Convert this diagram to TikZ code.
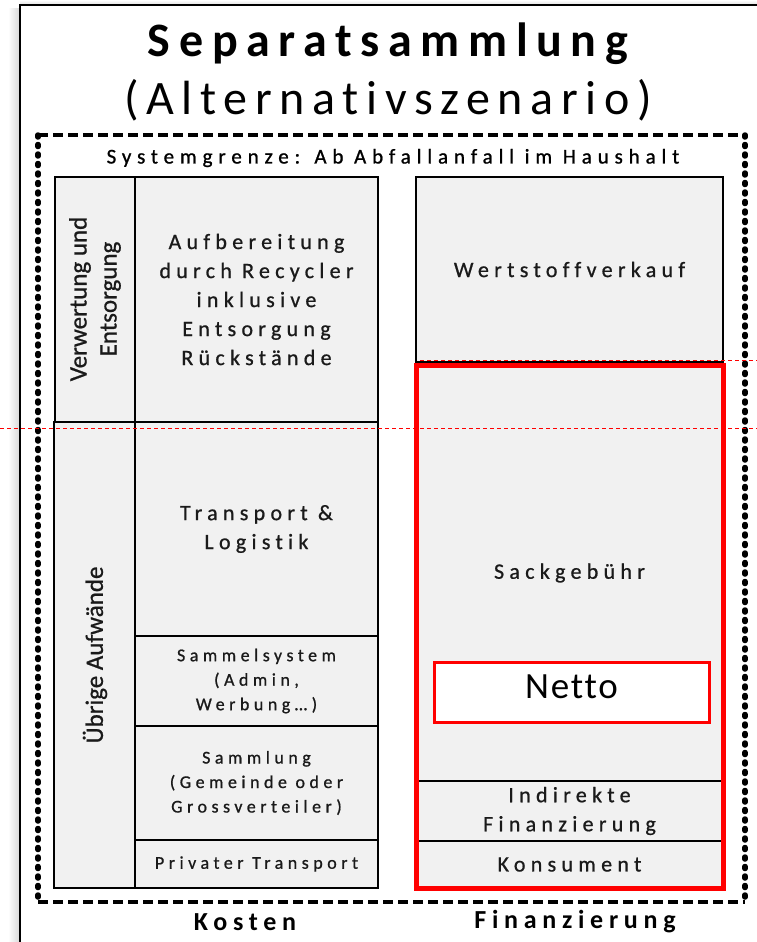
\documentclass[tikz,border=0pt]{standalone}
\usepackage{fontspec}
\setmainfont{Carlito}
\newfontfamily\lsp[LetterSpace=24,FakeBold=0.8,Ligatures=NoCommon]{Carlito}
\newfontfamily\lsps[LetterSpace=25,FakeBold=0.8,Ligatures=NoCommon]{Carlito}
\newfontfamily\lsysg[LetterSpace=28,FakeBold=1.0,Ligatures=NoCommon]{Carlito}
\newfontfamily\ltitle[LetterSpace=18,Ligatures=NoCommon]{Carlito}
\newfontfamily\lsub[LetterSpace=16,Ligatures=NoCommon]{Carlito}
\newfontfamily\lfoot[LetterSpace=22,Ligatures=NoCommon]{Carlito}
\newfontfamily\lnet[LetterSpace=5,Ligatures=NoCommon]{Carlito}
\newfontfamily\lrot[FakeBold=0.8]{Carlito}
\usetikzlibrary{calc}
\definecolor{cellgray}{HTML}{F1F1F1}
\definecolor{txtgray}{HTML}{1A1A1A}
\newcommand\cellbox[7][]{\node[cell,#1, minimum width={#5-#3}, minimum height={#6-#4}] (#2) at ({(#3+#5)/2},{(#4+#6)/2}) {#7};}
\begin{document}
\begin{tikzpicture}[x=1pt,y=-1pt,
  cell/.style={draw=black, fill=cellgray, line width=2.2, inner sep=0, outer sep=0, align=center, text=txtgray},
  big/.style={font=\lsp\fontsize{22}{29}\selectfont},
  small/.style={font=\lsps\fontsize{18}{24.5}\selectfont},
  rot/.style={rotate=90, align=center, font=\lrot\fontsize{25}{30}\selectfont, text=txtgray},
  redline/.style={draw=red, line width=0.9, dash pattern=on 4 off 3},
  boundh/.style={line width=4, dash pattern=on 10 off 5},
  boundv/.style={line width=5.5, line cap=round, dash pattern=on 2 off 7.5},
  foot/.style={font=\lfoot\bfseries\fontsize{26}{30}\selectfont}
]
\useasboundingbox (0,0) rectangle (757,942);
\clip (0,0) rectangle (757,942);
% shadow and outer frame
\shade[left color=white, right color=black!14] (8,9) rectangle (19,942);
\shade[top color=white, bottom color=black!10] (20,0) rectangle (757,4);
\draw[line width=2.2, fill=white] (20,5) rectangle (780,970);
% title
\node[font=\ltitle\bfseries\fontsize{48}{52}\selectfont] (title) at (388,44) {Separatsammlung};
\node[font=\lsub\fontsize{48}{52}\selectfont] (subtitle) at (388,100) {(Alternativszenario)};
% system boundary
\coordinate (bl) at (38,902);
\coordinate (tl) at (38,135);
\coordinate (tr) at (745,135);
\coordinate (br) at (745,902);
\draw[boundh] (tl) -- (tr);
\draw[boundh] (bl) -- (br);
\draw[boundv] (tl) -- (bl);
\draw[boundv] (tr) -- (br);
\node[font=\lsysg\fontsize{21}{24}\selectfont] (sysg) at (393,158) {Systemgrenze: Ab Abfallanfall im Haushalt};
% left block
\cellbox{verw}{55}{177}{135}{422}{}
\cellbox[big]{aufb}{135}{177}{378}{422}{Aufbereitung\\durch Recycler\\inklusive\\Entsorgung\\Rückstände}
\cellbox{uebr}{54}{422}{135}{888}{}
\cellbox[big]{trans}{135}{422}{378}{636}{Transport \&\\Logistik}
\cellbox[small]{samsys}{135}{636}{378}{726}{Sammelsystem\\(Admin,\\Werbung…)}
\cellbox[small]{saml}{135}{726}{378}{840}{Sammlung\\(Gemeinde oder\\Grossverteiler)}
\cellbox[small]{priv}{135}{840}{378}{888}{Privater Transport}
\node[rot] (verwtxt) at (95,299) {Verwertung und\\Entsorgung};
\node[rot] (uebrtxt) at (95,655) {Übrige Aufwände};
% right block
\cellbox[big]{wert}{416}{177}{723}{362}{Wertstoffverkauf}
\cellbox[big]{sack}{416}{365}{723}{781}{Sackgebühr}
\cellbox[big]{indir}{416}{781}{723}{841}{Indirekte\\Finanzierung}
\cellbox[big]{kons}{416}{841}{723}{888}{Konsument}
\draw[red, line width=5] (sack.north west) rectangle (kons.south east);
\node[draw=red, line width=3, fill=white, minimum width=275, minimum height=60, inner sep=0] (netto) at (571.5,692) {};
\node[font=\lnet\fontsize{37}{40}\selectfont, text=black] (nettotxt) at (571.5,687) {Netto};
% red dashed lines
\coordinate (r1a) at (420,360);
\coordinate (r1b) at (757,360);
\coordinate (r2a) at (0,428);
\coordinate (r2b) at (757,428);
\draw[redline] (r1a) -- (r1b);
\draw[redline] (r2a) -- (r2b);
% footers
\node[foot] (kosten) at (245,922) {Kosten};
\node[foot] (finanz) at (575,922) {Finanzierung};
\end{tikzpicture}
\end{document}
